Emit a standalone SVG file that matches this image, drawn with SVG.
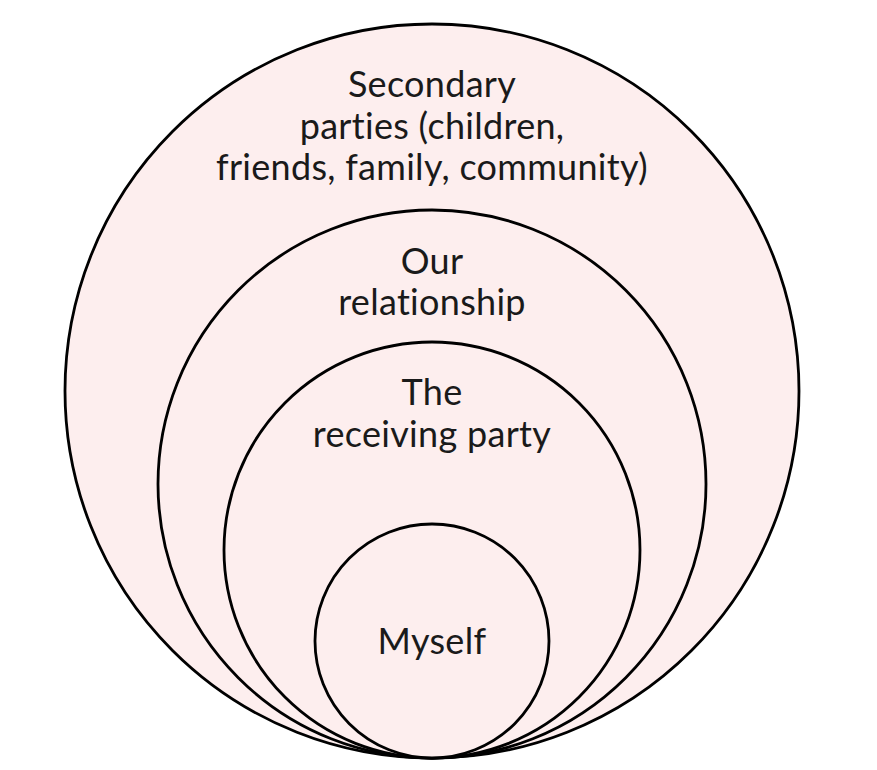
<svg xmlns="http://www.w3.org/2000/svg" width="877" height="770" viewBox="0 0 877 770">
<style>
.c{fill:#fdeeee;stroke:#000;stroke-width:2.8}
.t{font-family:Lato,"Liberation Sans",sans-serif;font-size:36px;font-weight:400;letter-spacing:0.3px;font-variant-ligatures:none;fill:#1a1a1a;text-anchor:middle}
</style>
<rect width="877" height="770" fill="#fff"/>
<g id="secondary"><circle class="c" cx="432" cy="391" r="367"/>
<text class="t" x="432" y="97">Secondary</text>
<text class="t" x="432" y="139">parties (children,</text>
<text class="t" x="432" y="180">friends, family, community)</text></g>
<g id="relationship"><circle class="c" cx="432" cy="484" r="274"/>
<text class="t" x="432" y="274">Our</text>
<text class="t" x="432" y="315">relationship</text></g>
<g id="receiving"><circle class="c" cx="432" cy="550" r="208"/>
<text class="t" x="432" y="405">The</text>
<text class="t" x="432" y="447">receiving party</text></g>
<g id="myself"><circle class="c" cx="432" cy="641" r="117"/>
<text class="t" x="432" y="654">Myself</text></g>
<g id="connectors"/>
</svg>
